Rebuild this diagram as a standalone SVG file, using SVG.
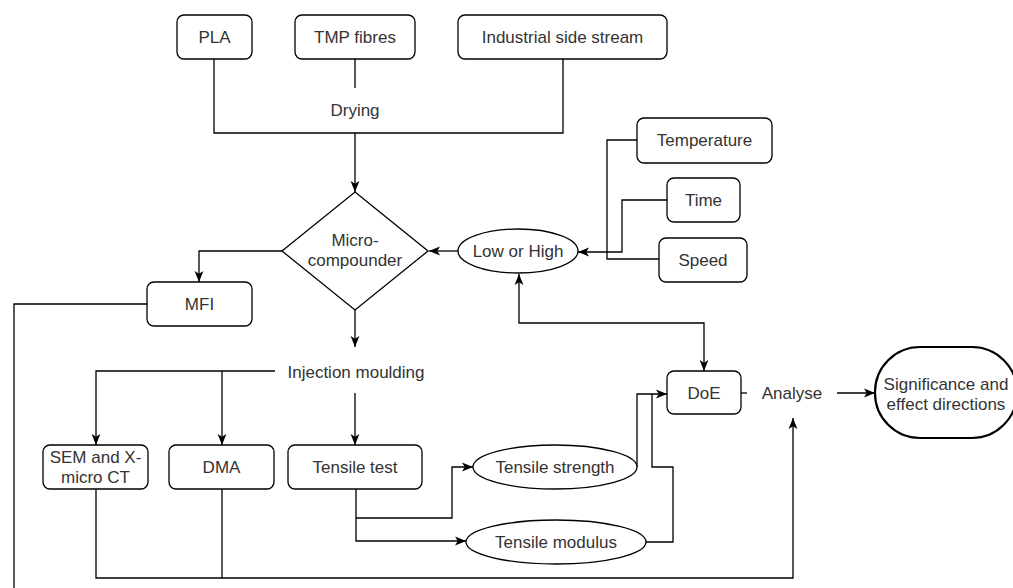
<svg xmlns="http://www.w3.org/2000/svg" width="1013" height="588" viewBox="0 0 1013 588">
<style>
.box{fill:#fff;stroke:#000;stroke-width:1.3}
.term{fill:#fff;stroke:#000;stroke-width:2.2}
.t{font-family:"Liberation Sans",Arial,sans-serif;font-size:17px;fill:#333;text-anchor:middle}
.c{fill:none;stroke:#000;stroke-width:1.3}
</style>
<defs>
<marker id="ar" viewBox="0 0 10 10" refX="10" refY="5" markerWidth="11" markerHeight="11" markerUnits="userSpaceOnUse" orient="auto-start-reverse">
<path d="M0,1 L10,5 L0,9 L2.5,5 z" fill="#000"/>
</marker>
</defs>
<rect width="1013" height="588" fill="#fff"/>
<g id="connectors">
<path class="c" d="M214,59 V133 H563 V59"/>
<path class="c" d="M355,59 V88"/>
<path class="c" d="M355,133 V192" marker-end="url(#ar)"/>
<path class="c" d="M282,251 H199 V282" marker-end="url(#ar)"/>
<path class="c" d="M147,304 H14 V588"/>
<path class="c" d="M355,310 V347" marker-end="url(#ar)"/>
<path class="c" d="M275,371 H96 V445" marker-end="url(#ar)"/>
<path class="c" d="M222,371 V445" marker-end="url(#ar)"/>
<path class="c" d="M355,393 V445" marker-end="url(#ar)"/>
<path class="c" d="M356,489 V541 H466" marker-end="url(#ar)"/>
<path class="c" d="M356,518 H452 V467 H473" marker-end="url(#ar)"/>
<path class="c" d="M637,467 V394 H667" marker-end="url(#ar)"/>
<path class="c" d="M645,542 H673 V467 H652 V394"/>
<path class="c" d="M519,274 V323 H704 V371" marker-start="url(#ar)" marker-end="url(#ar)"/>
<path class="c" d="M458,251 H429" marker-end="url(#ar)"/>
<path class="c" d="M637,140 H607 V259 H659"/>
<path class="c" d="M667,200 H622 V252 H578" marker-end="url(#ar)"/>
<path class="c" d="M96,489 V578 H793 V418" marker-end="url(#ar)"/>
<path class="c" d="M222,489 V578"/>
<path class="c" d="M741,393 H747"/>
<path class="c" d="M837,393 H875" marker-end="url(#ar)"/>
</g>
<g id="labels">
<text class="t" x="355" y="116">Drying</text>
<text class="t" x="356" y="378">Injection moulding</text>
<text class="t" x="792" y="399">Analyse</text>
</g>
<g id="pla"><rect class="box" x="177" y="15" width="75" height="44" rx="7"/><text class="t" x="214.5" y="43">PLA</text></g>
<g id="tmp"><rect class="box" x="295" y="15" width="120" height="44" rx="7"/><text class="t" x="355" y="43">TMP fibres</text></g>
<g id="industrial"><rect class="box" x="458" y="15" width="209" height="44" rx="7"/><text class="t" x="562.5" y="43">Industrial side stream</text></g>
<g id="temperature"><rect class="box" x="637" y="118" width="135" height="45" rx="7"/><text class="t" x="704.5" y="146">Temperature</text></g>
<g id="time"><rect class="box" x="667" y="178" width="73" height="44" rx="7"/><text class="t" x="703.5" y="206">Time</text></g>
<g id="speed"><rect class="box" x="659" y="238" width="88" height="44" rx="7"/><text class="t" x="703" y="266">Speed</text></g>
<g id="microcompounder"><path class="box" d="M355,192 L428,251 L355,310 L282,251 Z"/><text class="t" x="355" y="246">Micro-</text><text class="t" x="355" y="266">compounder</text></g>
<g id="lowhigh"><ellipse class="box" cx="518" cy="251" rx="60" ry="22"/><text class="t" x="518" y="257">Low or High</text></g>
<g id="mfi"><rect class="box" x="147" y="282" width="105" height="44" rx="7"/><text class="t" x="199.5" y="310">MFI</text></g>
<g id="sem"><rect class="box" x="43" y="445" width="105" height="44" rx="7"/><text class="t" x="95.5" y="463">SEM and X-</text><text class="t" x="95.5" y="483">micro CT</text></g>
<g id="dma"><rect class="box" x="169" y="445" width="105" height="44" rx="7"/><text class="t" x="221.5" y="473">DMA</text></g>
<g id="tensiletest"><rect class="box" x="288" y="445" width="134" height="44" rx="7"/><text class="t" x="355" y="473">Tensile test</text></g>
<g id="strength"><ellipse class="box" cx="555" cy="467" rx="82" ry="22"/><text class="t" x="555" y="473">Tensile strength</text></g>
<g id="modulus"><ellipse class="box" cx="556" cy="542" rx="90" ry="22"/><text class="t" x="556" y="548">Tensile modulus</text></g>
<g id="doe"><rect class="box" x="667" y="371" width="74" height="43" rx="7"/><text class="t" x="704" y="399">DoE</text></g>
<g id="significance"><rect class="term" x="875" y="347" width="142" height="91" rx="45" ry="45"/><text class="t" x="946" y="390">Significance and</text><text class="t" x="946" y="410">effect directions</text></g>
</svg>
